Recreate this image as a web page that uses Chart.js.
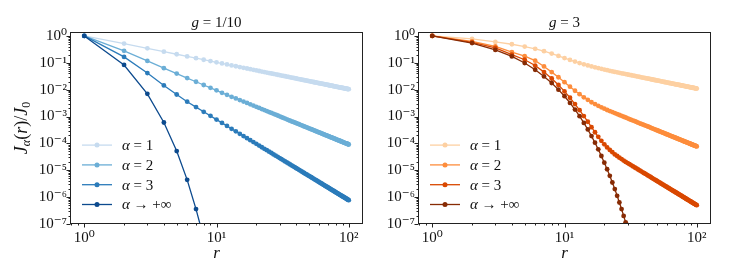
<!DOCTYPE html>
<html>
<head>
<meta charset="utf-8">
<script src="https://cdn.jsdelivr.net/npm/chart.js@4.4.0/dist/chart.umd.min.js"></script>
<style>
  body { margin: 0; background: #fff; }
  canvas { position: absolute; top: 0; }
</style>
</head>
<body>
<canvas id="leftChart" width="374" height="265" style="left:0"></canvas>
<canvas id="rightChart" width="374" height="265" style="left:374px"></canvas>
<script>
// distance r = 1 ... 100
const r = Array.from({length: 100}, (_, i) => i + 1);

const seriesNames = ['α = 1', 'α = 2', 'α = 3', 'α → +∞'];

// g = 1/10
const g01_a1 = [
  1, .52, .347, .26, .208, .173, .149, .13, .116, .104,
  .0945, .0867, .08, .0743, .0693, .065, .0612, .0578, .0547, .052,
  .0495, .0473, .0452, .0433, .0416, .04, .0385, .0371, .0359, .0347,
  .0335, .0325, .0315, .0306, .0297, .0289, .0281, .0274, .0267, .026,
  .0254, .0248, .0242, .0236, .0231, .0226, .0221, .0217, .0212, .0208,
  .0204, .02, .0196, .0193, .0189, .0186, .0182, .0179, .0176, .0173,
  .017, .0168, .0165, .0163, .016, .0158, .0155, .0153, .0151, .0149,
  .0146, .0144, .0142, .0141, .0139, .0137, .0135, .0133, .0132, .013,
  .0128, .0127, .0125, .0124, .0122, .0121, .012, .0118, .0117, .0116,
  .0114, .0113, .0112, .0111, .0109, .0108, .0107, .0106, .0105, .0104
];
const g01_a2 = [
  1, .28, .117, .0633, .0396, .0271, .0197, .0149, .0117, .00945,
  7.6e-3, 6.4e-3, 5.4e-3, 4.7e-3, 4.1e-3, 3.6e-3, 3.2e-3, 2.84e-3, 2.55e-3, 2.3e-3,
  2.09e-3, 1.9e-3, 1.74e-3, 1.6e-3, 1.47e-3, 1.36e-3, 1.26e-3, 1.17e-3, 1.09e-3, 1.02e-3,
  9.5e-4, 8.9e-4, 8.4e-4, 7.9e-4, 7.4e-4, 7.0e-4, 6.6e-4, 6.3e-4, 6.0e-4, 5.7e-4,
  5.4e-4, 5.2e-4, 4.9e-4, 4.7e-4, 4.5e-4, 4.3e-4, 4.1e-4, 3.95e-4, 3.8e-4, 3.64e-4,
  3.5e-4, 3.37e-4, 3.24e-4, 3.12e-4, 3.0e-4, 2.9e-4, 2.8e-4, 2.7e-4, 2.61e-4, 2.53e-4,
  2.45e-4, 2.37e-4, 2.29e-4, 2.22e-4, 2.15e-4, 2.09e-4, 2.03e-4, 1.97e-4, 1.91e-4, 1.86e-4,
  1.81e-4, 1.76e-4, 1.71e-4, 1.66e-4, 1.62e-4, 1.58e-4, 1.54e-4, 1.5e-4, 1.46e-4, 1.42e-4,
  1.39e-4, 1.35e-4, 1.32e-4, 1.29e-4, 1.26e-4, 1.23e-4, 1.2e-4, 1.17e-4, 1.15e-4, 1.12e-4,
  1.1e-4, 1.07e-4, 1.05e-4, 1.03e-4, 1.01e-4, 9.9e-5, 9.7e-5, 9.5e-5, 9.3e-5, 9.1e-5
];
const g01_a3 = [
  1, .166, .0415, .0144, 6.6e-3, 3.56e-3, 2.24e-3, 1.5e-3, 1.06e-3, 7.7e-4,
  5.8e-4, 4.46e-4, 3.5e-4, 2.81e-4, 2.28e-4, 1.88e-4, 1.57e-4, 1.32e-4, 1.12e-4, 9.6e-5,
  8.3e-5, 7.2e-5, 6.3e-5, 5.6e-5, 4.9e-5, 4.4e-5, 3.9e-5, 3.5e-5, 3.16e-5, 2.85e-5,
  2.58e-5, 2.35e-5, 2.14e-5, 1.96e-5, 1.8e-5, 1.65e-5, 1.52e-5, 1.4e-5, 1.3e-5, 1.2e-5,
  1.12e-5, 1.04e-5, 9.7e-6, 9.0e-6, 8.4e-6, 7.9e-6, 7.4e-6, 7.0e-6, 6.5e-6, 6.2e-6,
  5.8e-6, 5.5e-6, 5.2e-6, 4.9e-6, 4.6e-6, 4.4e-6, 4.2e-6, 3.95e-6, 3.75e-6, 3.56e-6,
  3.39e-6, 3.23e-6, 3.08e-6, 2.94e-6, 2.8e-6, 2.68e-6, 2.56e-6, 2.45e-6, 2.34e-6, 2.24e-6,
  2.15e-6, 2.06e-6, 1.98e-6, 1.9e-6, 1.82e-6, 1.75e-6, 1.69e-6, 1.62e-6, 1.56e-6, 1.5e-6,
  1.45e-6, 1.4e-6, 1.35e-6, 1.3e-6, 1.25e-6, 1.21e-6, 1.17e-6, 1.13e-6, 1.09e-6, 1.06e-6,
  1.02e-6, 9.9e-7, 9.6e-7, 9.3e-7, 9.0e-7, 8.7e-7, 8.4e-7, 8.2e-7, 7.9e-7, 7.7e-7
];
const g01_aInf = [1, .083, 7.0e-3, 6.0e-4, 5.2e-5, 4.4e-6, 3.6e-7, 3.0e-8];

// g = 3
const g3_a1 = [
  1, .78, .60, .49, .40, .33, .27, .22, .18, .15,
  .128, .111, .098, .088, .080, .0735, .068, .0634, .0595, .0561,
  .053, .0503, .0478, .0458, .044, .0423, .0407, .0393, .0379, .0367,
  .0355, .0344, .0333, .0324, .0314, .0306, .0297, .0289, .0282, .0275,
  .0268, .0262, .0256, .025, .0244, .0239, .0234, .0229, .0224, .022,
  .0216, .0212, .0208, .0204, .02, .0196, .0193, .019, .0186, .0183,
  .018, .0177, .0175, .0172, .0169, .0167, .0164, .0162, .0159, .0157,
  .0155, .0153, .0151, .0149, .0147, .0145, .0143, .0141, .0139, .0138,
  .0136, .0134, .0133, .0131, .0129, .0128, .0126, .0125, .0124, .0122,
  .0121, .012, .0118, .0117, .0116, .0115, .0113, .0112, .0111, .011
];
const g3_a2 = [
  1, .63, .41, .25, .176, .12, .073, .045, .029, .019,
  .0129, .0091, .0068, .0052, .0042, .0034, .0029, .0025, .0022, .00196,
  1.75e-3, 1.59e-3, 1.46e-3, 1.34e-3, 1.23e-3, 1.14e-3, 1.06e-3, 9.8e-4, 9.2e-4, 8.6e-4,
  8.0e-4, 7.5e-4, 7.1e-4, 6.7e-4, 6.3e-4, 5.9e-4, 5.6e-4, 5.3e-4, 5.1e-4, 4.8e-4,
  4.6e-4, 4.4e-4, 4.2e-4, 4.0e-4, 3.8e-4, 3.64e-4, 3.49e-4, 3.34e-4, 3.21e-4, 3.08e-4,
  2.96e-4, 2.85e-4, 2.74e-4, 2.64e-4, 2.55e-4, 2.46e-4, 2.37e-4, 2.29e-4, 2.21e-4, 2.14e-4,
  2.07e-4, 2.0e-4, 1.94e-4, 1.88e-4, 1.82e-4, 1.77e-4, 1.72e-4, 1.67e-4, 1.62e-4, 1.57e-4,
  1.53e-4, 1.49e-4, 1.45e-4, 1.41e-4, 1.37e-4, 1.33e-4, 1.3e-4, 1.27e-4, 1.23e-4, 1.2e-4,
  1.17e-4, 1.15e-4, 1.12e-4, 1.09e-4, 1.07e-4, 1.04e-4, 1.02e-4, 9.9e-5, 9.7e-5, 9.5e-5,
  9.3e-5, 9.1e-5, 8.9e-5, 8.7e-5, 8.5e-5, 8.4e-5, 8.2e-5, 8.0e-5, 7.9e-5, 7.7e-5
];
const g3_a3 = [
  1, .58, .36, .20, .13, .079, .045, .026, .015, .0086,
  .005, .0029, .00173, .00104, 6.4e-4, 4.0e-4, 2.6e-4, 1.76e-4, 1.25e-4, 9.2e-5,
  7.1e-5, 5.7e-5, 4.7e-5, 3.9e-5, 3.4e-5, 2.95e-5, 2.6e-5, 2.3e-5, 2.05e-5, 1.85e-5,
  1.68e-5, 1.53e-5, 1.39e-5, 1.27e-5, 1.17e-5, 1.07e-5, 9.9e-6, 9.1e-6, 8.4e-6, 7.8e-6,
  7.3e-6, 6.75e-6, 6.3e-6, 5.9e-6, 5.5e-6, 5.1e-6, 4.8e-6, 4.5e-6, 4.25e-6, 4.0e-6,
  3.77e-6, 3.56e-6, 3.36e-6, 3.18e-6, 3.0e-6, 2.85e-6, 2.7e-6, 2.56e-6, 2.43e-6, 2.31e-6,
  2.2e-6, 2.1e-6, 2.0e-6, 1.91e-6, 1.82e-6, 1.74e-6, 1.66e-6, 1.59e-6, 1.52e-6, 1.46e-6,
  1.4e-6, 1.34e-6, 1.29e-6, 1.23e-6, 1.19e-6, 1.14e-6, 1.1e-6, 1.05e-6, 1.01e-6, 9.8e-7,
  9.4e-7, 9.1e-7, 8.7e-7, 8.4e-7, 8.1e-7, 7.9e-7, 7.6e-7, 7.3e-7, 7.1e-7, 6.9e-7,
  6.6e-7, 6.4e-7, 6.2e-7, 6.0e-7, 5.8e-7, 5.65e-7, 5.5e-7, 5.3e-7, 5.15e-7, 5.0e-7
];
const g3_aInf = [
  1, .54, .30, .172, .098, .055, .031, .0177, .010, 5.7e-3,
  3.2e-3, 1.82e-3, 1.03e-3, 5.8e-4, 3.3e-4, 1.87e-4, 1.06e-4, 6.0e-5, 3.4e-5, 1.92e-5,
  1.09e-5, 6.2e-6, 3.5e-6, 2.0e-6, 1.12e-6, 6.3e-7, 3.6e-7, 2.0e-7, 1.15e-7, 6.5e-8
];

// tick values and labels
const xTickValues = [1, 10, 100];
const xTickLabels = ['10⁰', '10¹', '10²'];
const yTickValues = [1e-7, 1e-6, 1e-5, 1e-4, 1e-3, 1e-2, 1e-1, 1];
const yTickLabels = ['10⁻⁷', '10⁻⁶', '10⁻⁵', '10⁻⁴', '10⁻³', '10⁻²', '10⁻¹', '10⁰'];

const blues = ['#c6dbef', '#6baed6', '#2b7bba', '#0c4a8e'];
const oranges = ['#fdd0a2', '#fd8d3c', '#d94801', '#872b04'];

const SERIF = "'Liberation Serif', 'DejaVu Serif', serif";
const INK = '#111';

Chart.defaults.font.family = SERIF;
Chart.defaults.color = INK;

// draws text pieces with mixed style (italic letters, sub/superscripts)
function drawRich(ctx, parts, x, y, align) {
  let total = 0;
  parts.forEach(p => {
    ctx.font = (p.it ? 'italic ' : '') + p.size + 'px ' + SERIF;
    p.w = ctx.measureText(p.t).width;
    total += p.w;
  });
  let cx = align === 'center' ? x - total / 2 : x;
  parts.forEach(p => {
    ctx.font = (p.it ? 'italic ' : '') + p.size + 'px ' + SERIF;
    ctx.fillText(p.t, cx, y + (p.dy || 0));
    cx += p.w;
  });
}

// box, major and minor ticks
const frame = {
  id: 'frame',
  afterDraw(chart) {
    const {ctx, chartArea: a, scales: {x, y}} = chart;
    ctx.save();
    ctx.strokeStyle = '#222';
    ctx.lineWidth = 1;
    ctx.strokeRect(Math.round(a.left) - 0.5, Math.round(a.top) + 0.5,
      Math.round(a.right - a.left) + 1, Math.round(a.bottom - a.top) - 1);
    ctx.beginPath();
    const bx = Math.round(a.bottom) - 0.5, ly = Math.round(a.left) - 0.5;
    const tickX = (v, len) => {
      const px = Math.round(x.getPixelForValue(v)) + 0.5;
      if (px < a.left || px > a.right) return;
      ctx.moveTo(px, bx); ctx.lineTo(px, bx + len);
    };
    const tickY = (v, len) => {
      const py = Math.round(y.getPixelForValue(v)) + 0.5;
      if (py < a.top || py > a.bottom + 1) return;
      ctx.moveTo(ly, py); ctx.lineTo(ly - len, py);
    };
    xTickValues.forEach(v => tickX(v, 4));
    yTickValues.forEach(v => tickY(v, 4));
    [0.1, 1, 10].forEach(d => { for (let m = 2; m < 10; m++) tickX(m * d, 2); });
    yTickValues.forEach(d => { for (let m = 2; m < 10; m++) tickY(m * d, 2); });
    ctx.stroke();
    ctx.restore();
  }
};

// legend drawn inside the lower left of the plot
const insideLegend = {
  id: 'insideLegend',
  afterDraw(chart) {
    const {ctx, chartArea: a} = chart;
    ctx.save();
    chart.data.datasets.forEach((ds, i) => {
      const yy = a.bottom - 19.5 - (3 - i) * 19.8;
      ctx.strokeStyle = ds.borderColor;
      ctx.lineWidth = 1.3;
      ctx.beginPath();
      ctx.moveTo(a.left + 11, yy);
      ctx.lineTo(a.left + 41, yy);
      ctx.stroke();
      ctx.fillStyle = ds.borderColor;
      ctx.beginPath();
      ctx.arc(a.left + 26, yy, 2.5, 0, Math.PI * 2);
      ctx.fill();
      ctx.fillStyle = INK;
      ctx.textBaseline = 'middle';
      const name = seriesNames[i];
      drawRich(ctx, [{t: 'α', it: true, size: 15}, {t: name.slice(1), size: 15}], a.left + 51, yy + 1, 'left');
    });
    ctx.restore();
  }
};

// panel title and y axis label
const labels = {
  id: 'labels',
  afterDraw(chart) {
    const {ctx, chartArea: a} = chart;
    const o = chart.options.plugins.labels;
    ctx.save();
    ctx.fillStyle = INK;
    ctx.textBaseline = 'alphabetic';
    drawRich(ctx, o.title, (a.left + a.right) / 2, 27, 'center');
    if (o.yLabel) {
      ctx.translate(27, (a.top + a.bottom) / 2);
      ctx.rotate(-Math.PI / 2);
      drawRich(ctx, [
        {t: 'J', it: true, size: 18},
        {t: 'α', it: true, size: 12, dy: 3},
        {t: '(', size: 18},
        {t: 'r', it: true, size: 18},
        {t: ')/', size: 18},
        {t: 'J', it: true, size: 18},
        {t: '0', size: 12, dy: 3}
      ], 0, 0, 'center');
    }
    ctx.restore();
  }
};

function makeChart(id, series, colors, title, yWidth, padRight, yLabel) {
  const datasets = series.map((s, i) => ({
    label: seriesNames[i],
    data: s.map((v, k) => ({x: r[k], y: v})),
    borderColor: colors[i],
    backgroundColor: colors[i],
    pointBackgroundColor: colors[i],
    borderWidth: 1.3,
    pointRadius: 2.4,
    pointBorderWidth: 0,
    pointHoverRadius: 0,
    tension: 0,
    order: 3 - i
  }));
  return new Chart(document.getElementById(id), {
    type: 'line',
    data: {datasets},
    options: {
      responsive: false,
      animation: false,
      devicePixelRatio: 1,
      layout: {padding: {left: 0, right: padRight, top: 32, bottom: 0}},
      plugins: {
        legend: {display: false},
        tooltip: {enabled: false},
        title: {display: false},
        labels: {title, yLabel}
      },
      scales: {
        x: {
          type: 'logarithmic',
          min: 0.794,
          max: 125.9,
          grid: {display: false, drawTicks: false},
          border: {display: false},
          afterBuildTicks: s => { s.ticks = xTickValues.map(v => ({value: v, major: true})); },
          afterFit: s => { s.height = 41; },
          ticks: {
            autoSkip: false, maxRotation: 0, padding: 5,
            font: {size: 15},
            callback: (v, i) => xTickLabels[i]
          },
          title: {display: true, text: 'r', font: {size: 17, style: 'italic'}, padding: {top: 0, bottom: 1}}
        },
        y: {
          type: 'logarithmic',
          min: 1e-7,
          max: 1.4,
          grid: {display: false, drawTicks: false},
          border: {display: false},
          afterBuildTicks: s => { s.ticks = yTickValues.map(v => ({value: v, major: true})); },
          afterFit: s => { s.width = yWidth; },
          ticks: {
            autoSkip: false, padding: 4,
            font: {size: 15},
            callback: (v, i) => yTickLabels[i]
          }
        }
      }
    },
    plugins: [frame, insideLegend, labels]
  });
}

makeChart('leftChart', [g01_a1, g01_a2, g01_a3, g01_aInf], blues,
  [{t: 'g', it: true, size: 15}, {t: ' = 1/10', size: 15}], 71, 12, true);
makeChart('rightChart', [g3_a1, g3_a2, g3_a3, g3_aInf], oranges,
  [{t: 'g', it: true, size: 15}, {t: ' = 3', size: 15}], 45, 38, false);
</script>
</body>
</html>
